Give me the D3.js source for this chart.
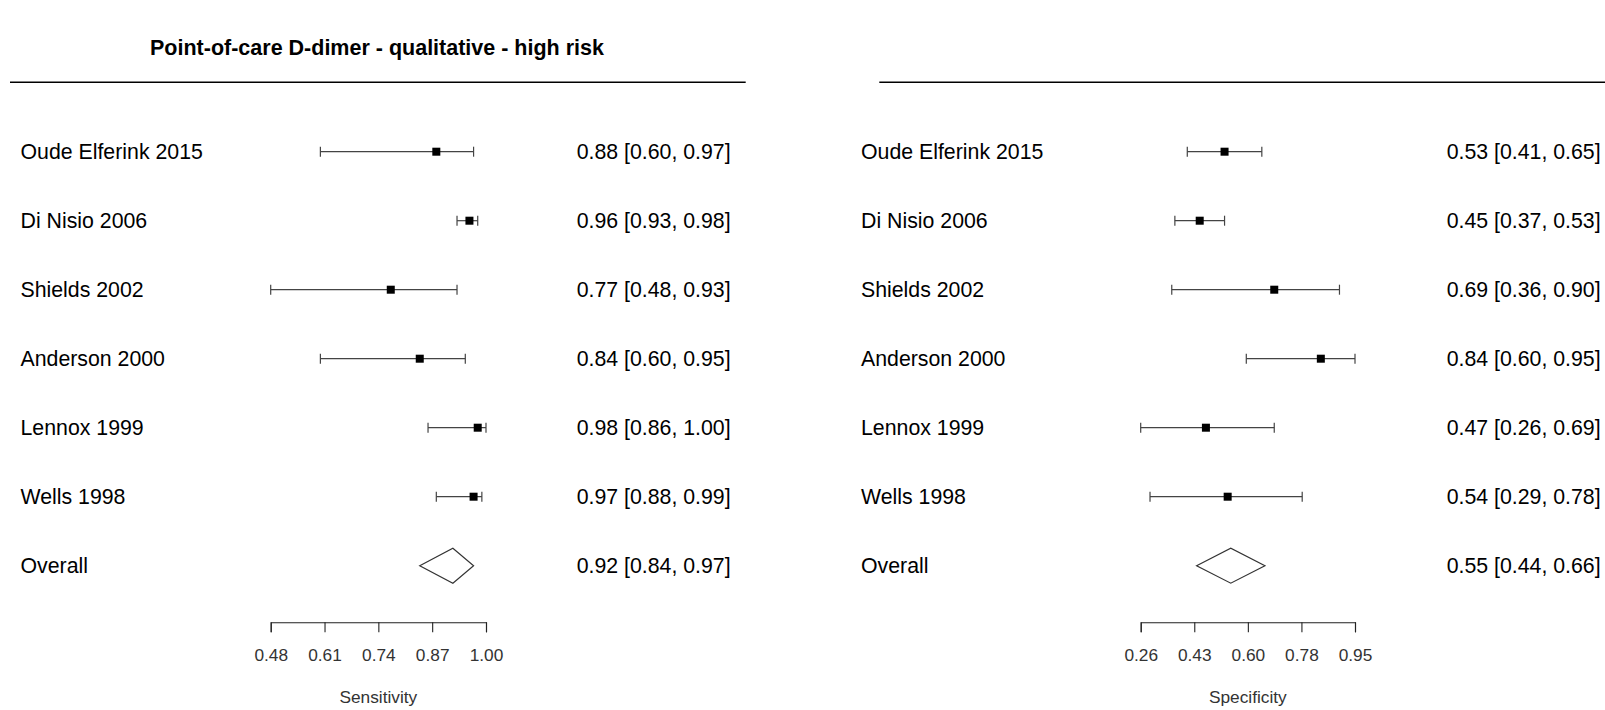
<!DOCTYPE html>
<html>
<head>
<meta charset="utf-8">
<script src="https://cdn.jsdelivr.net/npm/d3@7"></script>
<style>
  html, body { margin: 0; padding: 0; background: #fff; }
  svg { display: block; font-family: "Liberation Sans", Arial, sans-serif; }
</style>
</head>
<body>
<svg id="chart" width="1605" height="710"></svg>
<script>
// ---- data ----
const title = "Point-of-care D-dimer - qualitative - high risk";
const studies = ["Oude Elferink 2015", "Di Nisio 2006", "Shields 2002", "Anderson 2000", "Lennox 1999", "Wells 1998"];
const overallLabel = "Overall";

const sensEst = [0.88, 0.96, 0.77, 0.84, 0.98, 0.97];
const sensLow = [0.60, 0.93, 0.48, 0.60, 0.86, 0.88];
const sensHigh = [0.97, 0.98, 0.93, 0.95, 1.00, 0.99];
const sensOverall = [0.92, 0.84, 0.97]; // est, low, high

const specEst = [0.53, 0.45, 0.69, 0.84, 0.47, 0.54];
const specLow = [0.41, 0.37, 0.36, 0.60, 0.26, 0.29];
const specHigh = [0.65, 0.53, 0.90, 0.95, 0.69, 0.78];
const specOverall = [0.55, 0.44, 0.66];

const sensTicks = [0.48, 0.61, 0.74, 0.87, 1.00];
const sensTickLabels = ["0.48", "0.61", "0.74", "0.87", "1.00"];
const specTicks = [0.26, 0.4325, 0.605, 0.7775, 0.95];
const specTickLabels = ["0.26", "0.43", "0.60", "0.78", "0.95"];

// ---- layout ----
const svg = d3.select("#chart");
const rowNames = studies.concat([overallLabel]);
const y = d3.scalePoint().domain(rowNames).range([151.7, 565.7]);

svg.append("text")
  .attr("x", 377).attr("y", 48)
  .attr("text-anchor", "middle").attr("dominant-baseline", "central")
  .attr("font-weight", "bold").attr("font-size", 21.5)
  .attr("fill", "#000")
  .text(title);

function fmt(v) { return v.toFixed(2); }

function panel(cfg) {
  const g = svg.append("g");
  const x = d3.scaleLinear().domain(cfg.domain).range(cfg.range);

  g.append("line")
    .attr("x1", cfg.lineX[0]).attr("x2", cfg.lineX[1])
    .attr("y1", 82.3).attr("y2", 82.3)
    .attr("stroke", "#000").attr("stroke-width", 1.5);

  // labels
  g.selectAll("text.lab").data(rowNames).join("text")
    .attr("class", "lab")
    .attr("x", cfg.labelX).attr("y", d => y(d))
    .attr("dominant-baseline", "central")
    .attr("font-size", 21.3).attr("fill", "#000")
    .text(d => d);

  const rows = cfg.est.map((e, i) => ({name: studies[i], e, lo: cfg.low[i], hi: cfg.high[i]}));

  // numbers
  const allRows = rows.concat([{name: overallLabel, e: cfg.overall[0], lo: cfg.overall[1], hi: cfg.overall[2]}]);
  g.selectAll("text.num").data(allRows).join("text")
    .attr("class", "num")
    .attr("x", cfg.numX).attr("y", d => y(d.name))
    .attr("dominant-baseline", "central")
    .attr("font-size", 21.3).attr("fill", "#000")
    .text(d => `${fmt(d.e)} [${fmt(d.lo)}, ${fmt(d.hi)}]`);

  // CI lines
  const ci = g.selectAll("g.ci").data(rows).join("g").attr("class", "ci");
  ci.append("line")
    .attr("x1", d => x(d.lo)).attr("x2", d => x(d.hi))
    .attr("y1", d => y(d.name)).attr("y2", d => y(d.name))
    .attr("stroke", "#444").attr("stroke-width", 1.2);
  ci.append("line")
    .attr("x1", d => x(d.lo)).attr("x2", d => x(d.lo))
    .attr("y1", d => y(d.name) - 5).attr("y2", d => y(d.name) + 5)
    .attr("stroke", "#444").attr("stroke-width", 1.2);
  ci.append("line")
    .attr("x1", d => x(d.hi)).attr("x2", d => x(d.hi))
    .attr("y1", d => y(d.name) - 5).attr("y2", d => y(d.name) + 5)
    .attr("stroke", "#444").attr("stroke-width", 1.2);
  ci.append("rect")
    .attr("x", d => x(d.e) - 4).attr("y", d => y(d.name) - 4)
    .attr("width", 8).attr("height", 8)
    .attr("fill", "#000");

  // diamond
  const oy = y(overallLabel);
  const [oe, ol, oh] = cfg.overall;
  g.append("path")
    .attr("d", `M${x(ol)},${oy} L${x(oe)},${oy - 17.5} L${x(oh)},${oy} L${x(oe)},${oy + 17.5} Z`)
    .attr("fill", "#fff").attr("stroke", "#333").attr("stroke-width", 1.2);

  // axis
  const axis = d3.axisBottom(x)
    .tickValues(cfg.ticks)
    .tickFormat((d, i) => cfg.tickLabels[i])
    .tickSize(10).tickPadding(16.5);
  const ag = g.append("g").attr("transform", "translate(0,622.3)").call(axis);
  ag.selectAll("path, line").attr("stroke", "#222").attr("stroke-width", 1.1);
  ag.selectAll("text").attr("font-size", 17.3).attr("fill", "#333")
    .attr("font-family", "Liberation Sans, Arial, sans-serif");

  g.append("text")
    .attr("x", (cfg.range[0] + cfg.range[1]) / 2).attr("y", 697)
    .attr("text-anchor", "middle").attr("dominant-baseline", "central")
    .attr("font-size", 17.3).attr("fill", "#333")
    .text(cfg.axisTitle);
}

panel({
  domain: [0.48, 1.00], range: [270.7, 486],
  lineX: [10, 745.7], labelX: 20.5, numX: 576.7,
  est: sensEst, low: sensLow, high: sensHigh, overall: sensOverall,
  ticks: sensTicks, tickLabels: sensTickLabels, axisTitle: "Sensitivity"
});
panel({
  domain: [0.26, 0.95], range: [1140.7, 1355],
  lineX: [879.3, 1605], labelX: 861, numX: 1446.7,
  est: specEst, low: specLow, high: specHigh, overall: specOverall,
  ticks: specTicks, tickLabels: specTickLabels, axisTitle: "Specificity"
});
</script>
</body>
</html>
